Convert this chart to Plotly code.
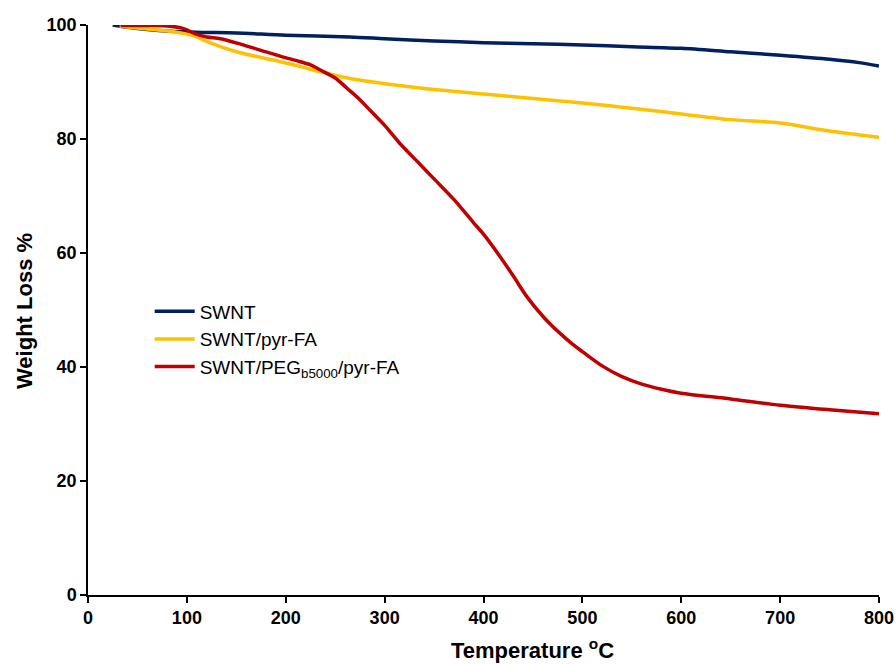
import plotly.graph_objects as go

# SWNT
swnt_t = [25, 40, 60, 83, 100, 116, 150, 200, 265, 300, 350, 400, 450, 500, 550, 600, 650, 700, 750, 780, 800]
swnt_w = [100.0, 99.6, 99.2, 98.9, 98.8, 98.7, 98.6, 98.2, 97.9, 97.6, 97.2, 96.9, 96.7, 96.5, 96.2, 95.9, 95.3, 94.7, 94.0, 93.4, 92.8]

# SWNT/pyr-FA
fa_t = [32, 60, 83, 100, 110, 123, 150, 175, 194, 215, 235, 265, 300, 350, 400, 450, 500, 550, 600, 650, 700, 750, 800]
fa_w = [99.8, 99.3, 98.9, 98.4, 97.9, 96.9, 95.3, 94.3, 93.6, 92.7, 91.8, 90.6, 89.7, 88.7, 87.9, 87.1, 86.3, 85.4, 84.4, 83.4, 82.8, 81.4, 80.3]

# SWNT/PEG-b5000/pyr-FA
peg_t = [33, 60, 83, 96, 108, 120, 134, 155, 174, 195, 214, 225, 235, 250, 262, 275, 286, 300, 315, 330, 350, 370, 390, 400, 417, 430, 444, 460, 470, 480, 490, 500, 520, 540, 560, 580, 600, 650, 700, 750, 800]
peg_w = [99.9, 99.9, 99.8, 99.4, 98.5, 97.9, 97.6, 96.6, 95.6, 94.5, 93.6, 93.0, 92.1, 90.7, 88.9, 86.9, 84.9, 82.4, 79.3, 76.6, 73.0, 69.4, 65.3, 63.3, 59.3, 56.0, 52.3, 48.9, 47.1, 45.5, 44.0, 42.7, 40.2, 38.3, 37.0, 36.1, 35.4, 34.4, 33.3, 32.5, 31.8]

names = ["SWNT", "SWNT/pyr-FA", "SWNT/PEG<sub>b5000</sub>/pyr-FA"]
colors = ["#002060", "#FFC000", "#C00000"]

fig = go.Figure()
for t, w, n, c in [(swnt_t, swnt_w, names[0], colors[0]),
                   (fa_t, fa_w, names[1], colors[1]),
                   (peg_t, peg_w, names[2], colors[2])]:
    fig.add_trace(go.Scatter(x=t, y=w, name=n, mode="lines",
                             line=dict(color=c, width=3.5, shape="spline", smoothing=0.8)))

font_family = "Liberation Sans, Arial, sans-serif"
fig.update_layout(
    width=896, height=664,
    margin=dict(l=88, r=17, t=25, b=69),
    paper_bgcolor="white", plot_bgcolor="white",
    font=dict(family=font_family, color="black"),
    showlegend=True,
    legend=dict(x=0.078, y=0.531, xanchor="left", yanchor="top",
                bgcolor="rgba(255,255,255,1)", font=dict(size=19, family=font_family),
                itemwidth=40),
    xaxis=dict(range=[0, 800], tickvals=[0, 100, 200, 300, 400, 500, 600, 700, 800],
               showline=True, linecolor="black", linewidth=1.5, ticks="outside",
               ticklen=6, tickcolor="black", tickwidth=1.5, showgrid=False, zeroline=False,
               automargin=False,
               tickfont=dict(size=18, family=font_family, weight="bold")),
    yaxis=dict(range=[0, 100], tickvals=[0, 20, 40, 60, 80, 100],
               showline=True, linecolor="black", linewidth=1.5, ticks="outside",
               ticklen=6, tickcolor="black", tickwidth=1.5, showgrid=False, zeroline=False,
               automargin=False,
               tickfont=dict(size=18, family=font_family, weight="bold")),
    annotations=[
        dict(text="Temperature <sup>o</sup>C", xref="paper", yref="paper",
             x=(532 - 88) / 791, y=-(54 / 570), xanchor="center", yanchor="middle",
             showarrow=False, font=dict(size=22, family=font_family, weight="bold")),
        dict(text="Weight Loss %", xref="paper", yref="paper", textangle=-90,
             x=(24 - 88) / 791, y=(595 - 311) / 570, xanchor="center", yanchor="middle",
             showarrow=False, font=dict(size=22, family=font_family, weight="bold")),
    ],
)

fig.write_html("out.html")
